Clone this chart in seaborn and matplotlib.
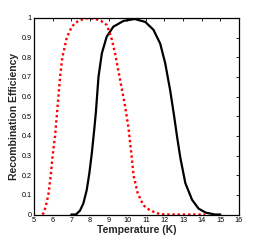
import matplotlib
matplotlib.use("Agg")
import matplotlib.pyplot as plt
import seaborn as sns
import pandas as pd

# Red dotted series
red_x = [5.45, 5.54, 5.65, 5.77, 5.9, 6.0, 6.13, 6.22, 6.31, 6.4, 6.52, 6.76, 7.0, 7.2, 7.5, 7.92,
         8.3, 8.6, 8.91, 9.15, 9.35, 9.62, 9.89, 10.07, 10.2, 10.34, 10.56, 10.75, 10.9, 11.24, 11.67,
         12.0, 14.2]
red_y = [0.0, 0.01, 0.05, 0.1, 0.2, 0.3, 0.4, 0.5, 0.6, 0.7, 0.8, 0.9, 0.95, 0.975, 0.99, 1.0,
         0.995, 0.985, 0.964, 0.9, 0.82, 0.685, 0.55, 0.44, 0.33, 0.2, 0.11, 0.07, 0.045, 0.02, 0.005,
         0.0, 0.0]

# Black solid series
black_x = [7.0, 7.25, 7.47, 7.65, 7.83, 7.97, 8.1, 8.23, 8.32, 8.46, 8.64, 8.9, 9.26, 9.8, 10.4,
           10.97, 11.41, 11.77, 12.04, 12.31, 12.52, 12.67, 12.85, 13.12, 13.48, 13.83, 14.2, 14.7, 15.0]
black_y = [0.0, 0.0, 0.02, 0.057, 0.125, 0.21, 0.31, 0.43, 0.52, 0.70, 0.82, 0.905, 0.956, 0.985, 0.995,
           0.98, 0.94, 0.87, 0.77, 0.63, 0.5, 0.40, 0.29, 0.16, 0.075, 0.03, 0.01, 0.0, 0.0]

x_ticks = list(range(5, 17))
y_ticks = [0, 0.1, 0.2, 0.3, 0.4, 0.5, 0.6, 0.7, 0.8, 0.9, 1]
y_tick_labels = ["0", "0.1", "0.2", "0.3", "0.4", "0.5", "0.6", "0.7", "0.8", "0.9", "1"]

sns.set_style("white")
plt.rcParams['font.family'] = ['Liberation Sans', 'DejaVu Sans']

fig = plt.figure(figsize=(2.64, 2.41), dpi=100)
ax = fig.add_axes([34/264, 1 - 214.5/241, (239 - 34)/264, (214.5 - 18)/241])

df_red = pd.DataFrame({"x": red_x, "y": red_y})
df_black = pd.DataFrame({"x": black_x, "y": black_y})

sns.lineplot(data=df_black, x="x", y="y", ax=ax, color="black", linewidth=1.6, sort=False)
sns.lineplot(data=df_red, x="x", y="y", ax=ax, color="#ff0000", linewidth=1.7,
             linestyle=(0, (1, 1.2)), sort=False)

ax.set_xlim(5, 16)
ax.set_ylim(0, 1)
ax.set_xticks(x_ticks)
ax.set_xticklabels([str(t) for t in x_ticks])
ax.set_yticks(y_ticks)
ax.set_yticklabels(y_tick_labels)
ax.tick_params(direction="in", length=2, width=0.6, labelsize=5.2, pad=1.5,
               top=True, right=True, colors="black")
for s in ax.spines.values():
    s.set_color("black")
    s.set_linewidth(0.9)

ax.set_xlabel("Temperature (K)", fontsize=7.5, fontweight="bold", labelpad=1)
ax.set_ylabel("Recombination Efficiency", fontsize=7.5, fontweight="bold", labelpad=2)

fig.savefig("out.png", dpi=100)
